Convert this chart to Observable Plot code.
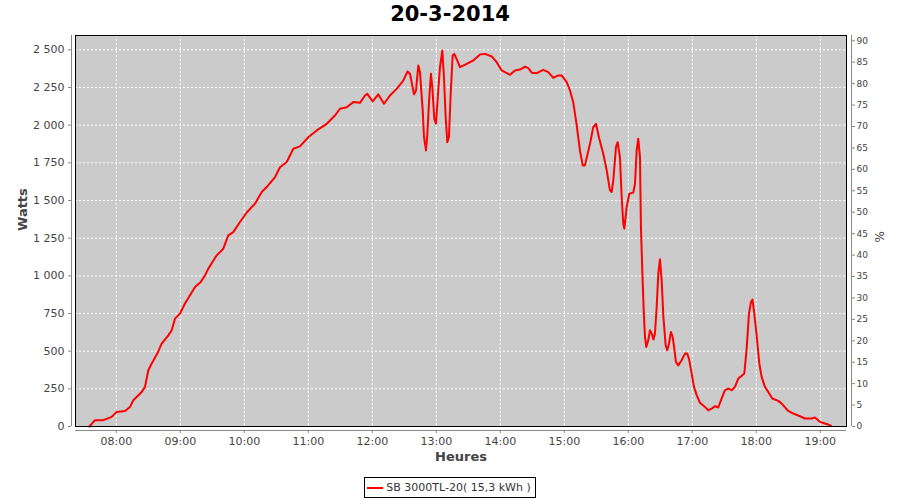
<!DOCTYPE html>
<html>
<head>
<meta charset="utf-8">
<script src="https://cdn.jsdelivr.net/npm/d3@7"></script>
<script src="https://cdn.jsdelivr.net/npm/@observablehq/plot@0.6"></script>
<style>
  html, body { margin: 0; padding: 0; background: #fff; }
  body { width: 900px; height: 500px; overflow: hidden; font-family: "DejaVu Sans", sans-serif; }
  #title { height: 30px; line-height: 29px; text-align: center; font-weight: bold; font-size: 21px; color: #000; }
  #chart svg { display: block; }
  #legend { text-align: center; margin-top: 7px; font-size: 11px; color: #333; }
  #legend .box { display: inline-block; border: 1px solid #000; padding: 2px 4px 2px 2px; line-height: 15px; }
  #legend svg { vertical-align: middle; margin-right: 3px; }
</style>
</head>
<body>
<div id="title">20-3-2014</div>
<div id="chart"></div>
<div id="legend"><span class="box"><svg width="16" height="10"><line x1="0" y1="5" x2="16" y2="5" stroke="red" stroke-width="2"/></svg>SB 3000TL-20( 15,3 kWh )</span></div>
<script>
// Time of day in decimal hours, and power in watts
const hours = [
  7.58, 7.667, 7.797, 7.928, 8.006, 8.136, 8.214, 8.266, 8.397, 8.448,
  8.5, 8.553, 8.641, 8.709, 8.813, 8.866, 8.917, 8.995, 9.073, 9.23,
  9.319, 9.386, 9.438, 9.569, 9.672, 9.75, 9.828, 9.933, 10.038, 10.167,
  10.272, 10.35, 10.48, 10.558, 10.663, 10.766, 10.87, 11.0, 11.131, 11.288,
  11.417, 11.495, 11.6, 11.703, 11.808, 11.886, 11.922, 12.006, 12.094, 12.183,
  12.277, 12.381, 12.484, 12.55, 12.589, 12.652, 12.683, 12.719, 12.745, 12.788,
  12.808, 12.839, 12.859, 12.891, 12.917, 12.938, 12.969, 12.995, 13.031, 13.058,
  13.094, 13.12, 13.147, 13.172, 13.198, 13.225, 13.256, 13.281, 13.328, 13.37,
  13.475, 13.578, 13.683, 13.761, 13.866, 13.944, 14.022, 14.152, 14.23, 14.308,
  14.386, 14.438, 14.491, 14.569, 14.672, 14.75, 14.828, 14.906, 14.959, 15.038,
  15.089, 15.141, 15.194, 15.245, 15.288, 15.323, 15.402, 15.453, 15.495, 15.547,
  15.609, 15.663, 15.714, 15.741, 15.766, 15.808, 15.834, 15.87, 15.897, 15.922,
  15.938, 15.975, 16.016, 16.078, 16.105, 16.131, 16.156, 16.183, 16.198, 16.219,
  16.241, 16.261, 16.281, 16.313, 16.339, 16.366, 16.394, 16.417, 16.444, 16.469,
  16.495, 16.522, 16.547, 16.584, 16.609, 16.636, 16.667, 16.694, 16.719, 16.745,
  16.781, 16.834, 16.886, 16.922, 16.953, 16.991, 17.027, 17.069, 17.12, 17.198,
  17.25, 17.303, 17.355, 17.406, 17.459, 17.511, 17.563, 17.616, 17.667, 17.719,
  17.772, 17.813, 17.85, 17.886, 17.917, 17.941, 17.969, 18.006, 18.047, 18.084,
  18.136, 18.188, 18.25, 18.344, 18.397, 18.5, 18.578, 18.683, 18.761, 18.866,
  18.917, 18.995, 19.073, 19.125, 19.167
];
const watts = [
  0, 42, 42, 64, 97, 103, 130, 174, 229, 263,
  373, 418, 484, 550, 605, 639, 716, 749, 816, 926,
  959, 1003, 1048, 1136, 1180, 1269, 1290, 1357, 1420, 1479,
  1556, 1589, 1655, 1721, 1755, 1843, 1859, 1920, 1965, 2009,
  2064, 2109, 2119, 2153, 2148, 2197, 2208, 2157, 2204, 2142,
  2197, 2241, 2296, 2356, 2341, 2204, 2230, 2396, 2352, 2098,
  1920, 1832, 1932, 2186, 2341, 2252, 2042, 2009, 2230, 2385,
  2495, 2318, 2053, 1887, 1920, 2208, 2462, 2473, 2429, 2385,
  2407, 2429, 2469, 2473, 2456, 2418, 2363, 2334, 2363, 2369,
  2389, 2378, 2348, 2345, 2367, 2352, 2314, 2330, 2330, 2285,
  2230, 2150, 2000, 1832, 1733, 1733, 1877, 1987, 2009, 1910,
  1810, 1700, 1567, 1556, 1633, 1854, 1887, 1788, 1523, 1346,
  1313, 1456, 1545, 1552, 1611, 1832, 1910, 1788, 1324, 1036,
  771, 594, 528, 572, 639, 617, 578, 617, 793, 1015,
  1110, 970, 740, 539, 506, 550, 627, 594, 517, 428,
  406, 440, 484, 484, 440, 351, 263, 208, 157, 130,
  108, 119, 135, 126, 186, 241, 252, 241, 263, 318,
  336, 351, 517, 749, 826, 842, 749, 605, 420, 329,
  263, 229, 186, 170, 152, 103, 86, 68, 53, 53,
  60, 31, 20, 13, 4
];
const hourTicks = [8, 9, 10, 11, 12, 13, 14, 15, 16, 17, 18, 19];
const wattTicks = [0, 250, 500, 750, 1000, 1250, 1500, 1750, 2000, 2250, 2500];
const percentTicks = [0, 5, 10, 15, 20, 25, 30, 35, 40, 45, 50, 55, 60, 65, 70, 75, 80, 85, 90];

const xDomain = [7.3625, 19.41];
const yDomain = [0, 2595];
const wattsPerPercent = 2560 / 90;

const data = hours.map((h, i) => ({h, w: watts[i]}));

const fmtW = d => d >= 1000 ? Math.floor(d / 1000) + " " + String(d % 1000).padStart(3, "0") : String(d);
const fmtH = d => String(d).padStart(2, "0") + ":00";

const chart = Plot.plot({
  width: 900,
  height: 440,
  marginLeft: 75,
  marginRight: 54,
  marginTop: 5,
  marginBottom: 44,
  style: {fontFamily: "DejaVu Sans, sans-serif", background: "white", overflow: "visible"},
  x: {domain: xDomain},
  y: {domain: yDomain},
  marks: [
    Plot.frame({fill: "#cbcbcb"}),
    Plot.gridX(hourTicks, {stroke: "white", strokeOpacity: 1, strokeDasharray: "2,2"}),
    Plot.gridY(wattTicks, {stroke: "white", strokeOpacity: 1, strokeDasharray: "2,2"}),
    Plot.line(data, {x: "h", y: "w", stroke: "red", strokeWidth: 2}),
    Plot.frame({stroke: "black"}),
    Plot.ruleX([xDomain[0]], {dx: -4, stroke: "#888"}),
    Plot.ruleX([xDomain[1]], {dx: 5, stroke: "#888"}),
    Plot.ruleY([yDomain[0]], {dy: 4, stroke: "#888", x1: xDomain[0], x2: xDomain[1]}),
    Plot.axisY(wattTicks, {anchor: "left", dx: -4, tickSize: 3, tickPadding: 4, tickFormat: fmtW, fontSize: 11, fill: "#444", stroke: "#888", label: null}),
    Plot.axisY(percentTicks.map(p => p * wattsPerPercent), {anchor: "right", dx: 5, tickSize: 3, tickPadding: 2, tickFormat: d => String(Math.round(d / wattsPerPercent)), fontSize: 9, fill: "#444", stroke: "#888", label: null}),
    Plot.axisX(hourTicks, {anchor: "bottom", dy: 4, tickSize: 3, tickPadding: 4, tickFormat: fmtH, fontSize: 11, fill: "#444", stroke: "#888", label: null}),
    Plot.text(["Watts"], {text: d => d, frameAnchor: "left", dx: -53, rotate: -90, fontSize: 13, fontWeight: "bold", fill: "#444"}),
    Plot.text(["%"], {text: d => d, frameAnchor: "right", dx: 34, rotate: -90, fontSize: 12, fill: "#444"}),
    Plot.text(["Heures"], {text: d => d, frameAnchor: "bottom", dy: 34, fontSize: 13, fontWeight: "bold", fill: "#444"})
  ]
});
document.getElementById("chart").appendChild(chart);
</script>
</body>
</html>
